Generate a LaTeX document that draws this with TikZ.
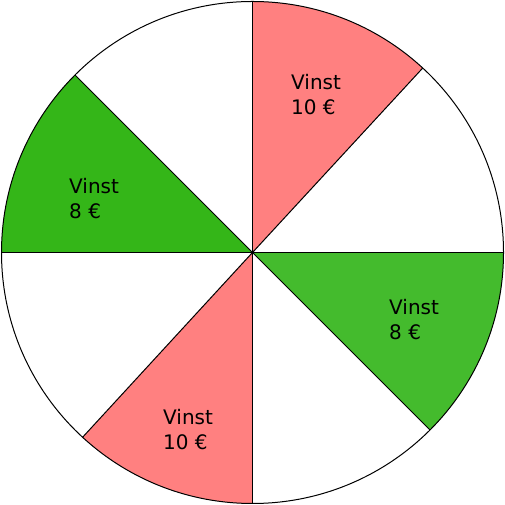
\documentclass[tikz,border=0pt]{standalone}
\usepackage{fontspec}
\setmainfont{DejaVu Sans}
\usepackage{xcolor}
\usepackage{tikz}
\definecolor{Rose}{RGB}{255,128,128}
\definecolor{LeafDark}{RGB}{52,182,24}
\definecolor{LeafLight}{RGB}{68,187,45}

\begin{document}
\begin{tikzpicture}[x=1pt,y=1pt,
    prize/.style={anchor=base west,inner sep=0pt,align=left,
                  font=\fontsize{20}{25}\selectfont}]
  \useasboundingbox (0,0) rectangle (505,505);
  \coordinate (hub) at (252.5,252.5);
  % coloured sectors
  \fill[Rose] (hub) -- ++(90:251) arc[start angle=90,end angle=47.3,radius=251] -- cycle;
  \fill[LeafLight] (hub) -- ++(0:251) arc[start angle=0,end angle=-45,radius=251] -- cycle;
  \fill[Rose] (hub) -- ++(270:251) arc[start angle=270,end angle=227.4,radius=251] -- cycle;
  \fill[LeafDark] (hub) -- ++(180:251) arc[start angle=180,end angle=135,radius=251] -- cycle;
  % wheel outline and spokes
  \draw[line width=1pt] (hub) circle[radius=251];
  \foreach \a in {90,47.3,0,-45,-90,-132.6,180,135}
    \draw[line width=1pt] (hub) -- ++(\a:251);
  % labels (base = last line)
  \node[prize] (prizeA) at (291,390) {Vinst\\10 €};
  \node[prize] (prizeB) at (389,165) {Vinst\\8 €};
  \node[prize] (prizeC) at (163,55) {Vinst\\10 €};
  \node[prize] (prizeD) at (69,286) {Vinst\\8 €};
\end{tikzpicture}
\end{document}
